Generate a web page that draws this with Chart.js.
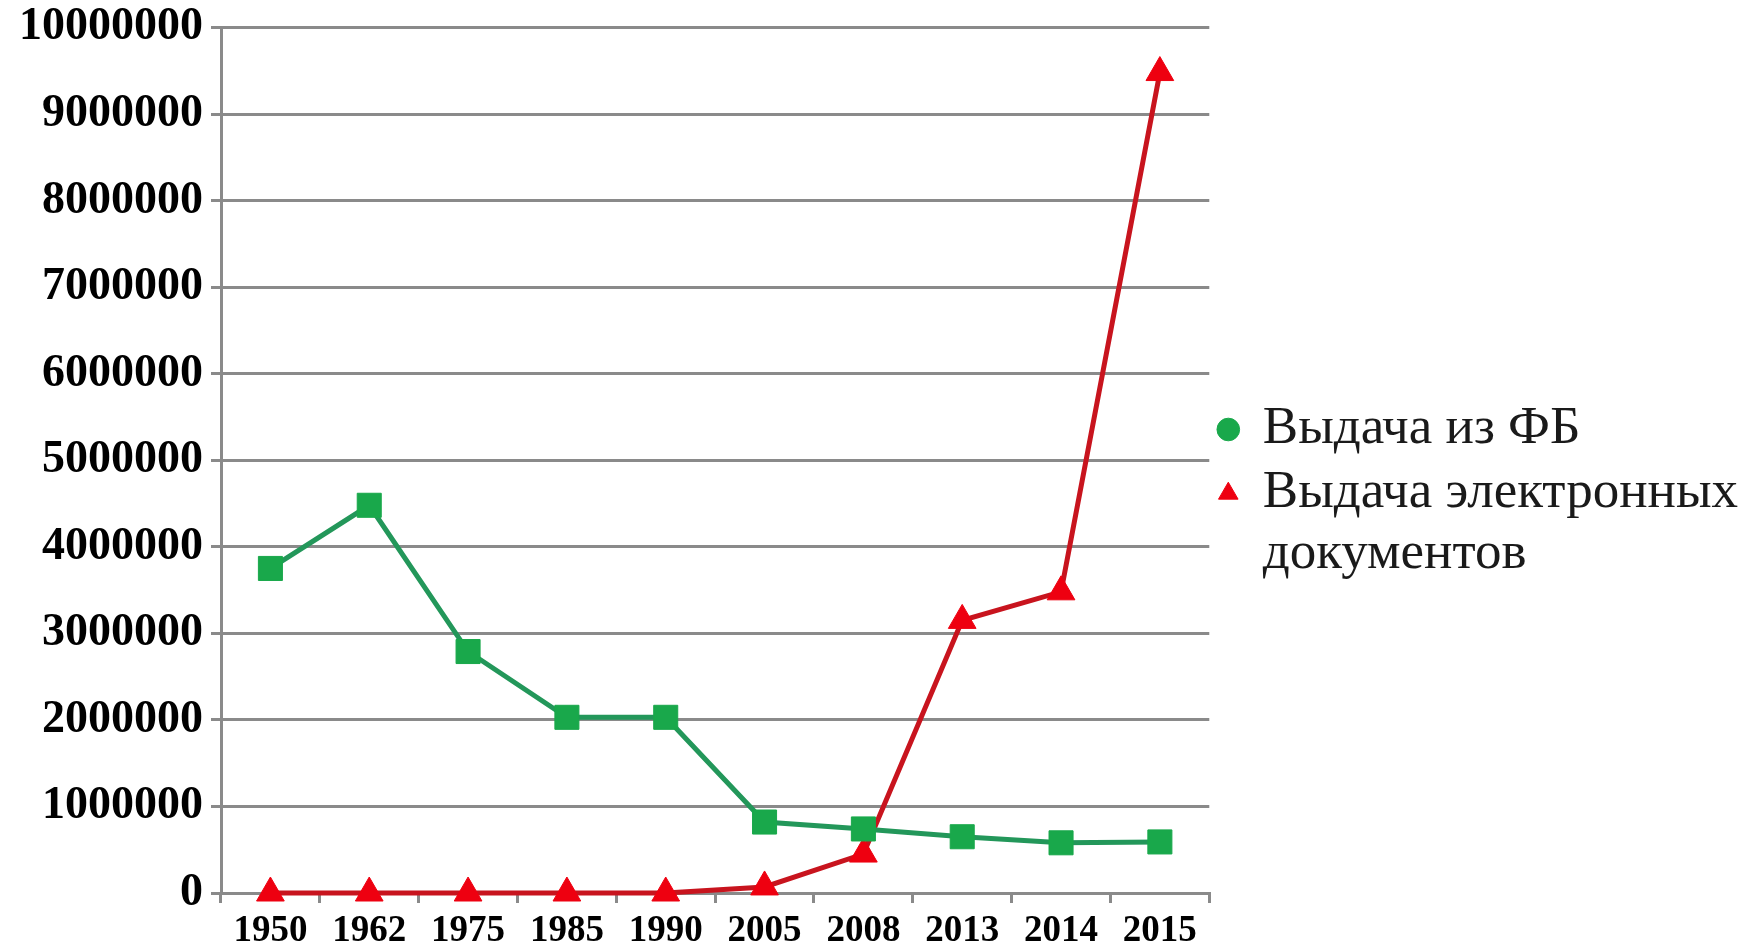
<!DOCTYPE html>
<html lang="ru">
<head>
<meta charset="utf-8">
<title>Выдача документов</title>
<script src="https://cdn.jsdelivr.net/npm/chart.js@4/dist/chart.umd.min.js"></script>
<style>
    html, body {
        margin: 0;
        padding: 0;
        background: #ffffff;
    }
    #chart-box {
        width: 1756px;
        height: 948px;
        position: relative;
    }
</style>
</head>
<body>
<div id="chart-box">
    <canvas id="issue-chart"></canvas>
</div>
<script>
// Chart data
const years = ['1950', '1962', '1975', '1985', '1990', '2005', '2008', '2013', '2014', '2015'];
const fondIssue = [3750000, 4480000, 2790000, 2030000, 2030000, 820000, 740000, 650000, 580000, 590000];
const electronicIssue = [0, 0, 0, 0, 0, 70000, 450000, 3150000, 3480000, 9480000];
const seriesNames = ['Выдача из ФБ', 'Выдача электронных документов'];
const legendLines = ['Выдача из ФБ', ['Выдача электронных', 'документов']];
const yMax = 10000000;
const yStep = 1000000;

const serifFont = "'Liberation Serif', 'Times New Roman', serif";

let issueChart = null;

document.addEventListener('DOMContentLoaded', function() {
    initializeChart();
});

function initializeChart() {
    const ctx = document.getElementById('issue-chart').getContext('2d');
    issueChart = new Chart(ctx, {
        type: 'line',
        data: {
            labels: years,
            datasets: [
                {
                    label: seriesNames[0],
                    data: fondIssue,
                    borderColor: '#23975a',
                    backgroundColor: '#19a84b',
                    borderWidth: 5,
                    pointStyle: 'rect',
                    pointRadius: 17,
                    pointBorderWidth: 1,
                    pointBackgroundColor: '#19a84b',
                    pointBorderColor: '#19a84b',
                    tension: 0,
                    clip: false
                },
                {
                    label: seriesNames[1],
                    data: electronicIssue,
                    borderColor: '#c8141e',
                    backgroundColor: '#ee0010',
                    borderWidth: 5,
                    pointStyle: 'triangle',
                    pointRadius: 16,
                    pointBorderWidth: 1,
                    pointBackgroundColor: '#ee0010',
                    pointBorderColor: '#ee0010',
                    tension: 0,
                    clip: false
                }
            ]
        },
        options: {
            responsive: true,
            maintainAspectRatio: false,
            animation: false,
            layout: {
                padding: { top: 0, right: 8, bottom: 0, left: 0 }
            },
            scales: {
                x: {
                    offset: true,
                    grid: {
                        offset: true,
                        display: true,
                        drawOnChartArea: false,
                        drawTicks: true,
                        tickLength: 10,
                        color: '#8a8a8a',
                        lineWidth: 3
                    },
                    border: {
                        display: true,
                        color: '#8a8a8a',
                        width: 3
                    },
                    ticks: {
                        color: '#000000',
                        padding: 6,
                        maxRotation: 0,
                        autoSkip: false,
                        font: { family: serifFont, size: 37, weight: 'bold' }
                    },
                    afterFit: function(scale) {
                        scale.height = 55;
                    }
                },
                y: {
                    min: 0,
                    max: yMax,
                    grid: {
                        color: '#8a8a8a',
                        lineWidth: 3,
                        drawTicks: true,
                        tickLength: 10
                    },
                    border: {
                        display: true,
                        color: '#8a8a8a',
                        width: 3
                    },
                    ticks: {
                        stepSize: yStep,
                        color: '#000000',
                        padding: 8,
                        font: { family: serifFont, size: 46, weight: 'bold', lineHeight: 0.85 },
                        callback: function(value) {
                            return String(value);
                        }
                    },
                    afterFit: function(scale) {
                        scale.width = 221;
                    }
                }
            },
            plugins: {
                tooltip: { enabled: false },
                legend: {
                    position: 'right',
                    align: 'start',
                    maxWidth: 700,
                    title: {
                        display: true,
                        text: ' ',
                        font: { size: 10 },
                        padding: { top: 0, bottom: 380 }
                    },
                    labels: {
                        usePointStyle: true,
                        boxWidth: 16,
                        boxHeight: 16,
                        padding: 11,
                        color: '#1a1a1a',
                        font: { family: serifFont, size: 53, lineHeight: 1.15 },
                        generateLabels: function(chart) {
                            const items = Chart.defaults.plugins.legend.labels.generateLabels(chart);
                            items.forEach((item, i) => {
                                item.text = legendLines[i];
                                item.pointStyle = i === 0 ? 'circle' : 'triangle';
                                item.lineWidth = 1;
                            });
                            return items;
                        }
                    }
                }
            }
        }
    });
}
</script>
</body>
</html>
